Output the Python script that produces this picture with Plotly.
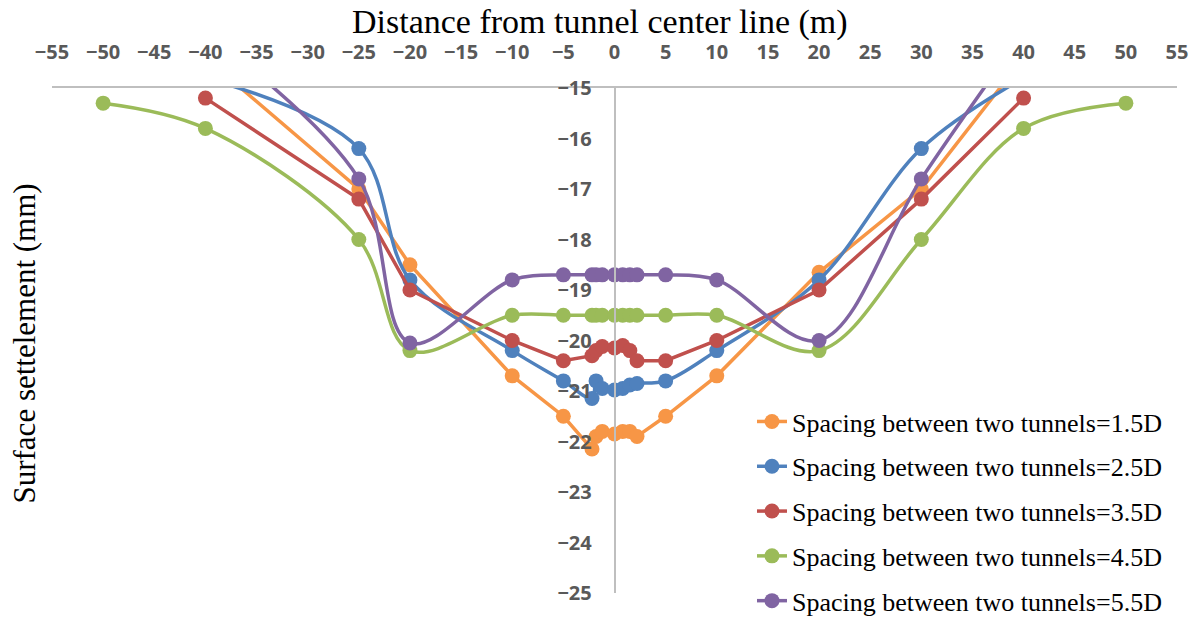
import plotly.graph_objects as go

# Horizontal distance from the tunnel centre line (m) for each case
dist_15d = [-40, -25, -20, -10, -5, -2.2, -1.8, -1.2, 0, 0.8, 1.5, 2.2, 5, 10, 20, 30, 40]
dist_25d = [-40, -25, -20, -10, -5, -2.2, -1.8, -1.2, 0, 0.8, 1.5, 2.2, 5, 10, 20, 30, 40]
dist_35d = [-40, -25, -20, -10, -5, -2.2, -1.8, -1.2, 0, 0.8, 1.5, 2.2, 5, 10, 20, 30, 40]
dist_45d = [-50, -40, -25, -20, -10, -5, -2.2, -1.8, -1.2, 0, 0.8, 1.5, 2.2, 5, 10, 20, 30, 40, 50]
dist_55d = [-40, -25, -20, -10, -5, -2.2, -1.8, -1.2, 0, 0.8, 1.5, 2.2, 5, 10, 20, 30, 40]

# Surface settlement (mm)
settle_15d = [-14.4, -17.0, -18.5, -20.7, -21.5, -22.15, -21.9, -21.8, -21.85, -21.8, -21.8, -21.9,
              -21.5, -20.7, -18.65, -17.0, -14.4]
settle_25d = [-14.8, -16.2, -18.8, -20.2, -20.8, -21.15, -20.8, -20.95, -20.98, -20.95, -20.88, -20.85,
              -20.8, -20.2, -18.8, -16.2, -14.8]
settle_35d = [-15.2, -17.2, -19.0, -20.0, -20.4, -20.3, -20.2, -20.12, -20.15, -20.1, -20.2, -20.4,
              -20.4, -20.0, -19.0, -17.2, -15.2]
settle_45d = [-15.3, -15.8, -18.0, -20.2, -19.5, -19.5, -19.5, -19.5, -19.5, -19.5, -19.5, -19.5, -19.5,
              -19.5, -19.5, -20.2, -18.0, -15.8, -15.3]
settle_55d = [-13.9, -16.8, -20.05, -18.8, -18.7, -18.7, -18.7, -18.7, -18.7, -18.7, -18.7, -18.7,
              -18.7, -18.8, -20.0, -16.8, -13.9]

series_names = [
    "Spacing between two tunnels=1.5D",
    "Spacing between two tunnels=2.5D",
    "Spacing between two tunnels=3.5D",
    "Spacing between two tunnels=4.5D",
    "Spacing between two tunnels=5.5D",
]
series_colors = ["#F79646", "#4F81BD", "#C0504D", "#9BBB59", "#8064A2"]
series_shapes = ["linear", "spline", "linear", "spline", "spline"]

x_ticks = list(range(-55, 56, 5))
y_ticks = list(range(-25, -14, 1))

fig = go.Figure()
for name, xs, ys, color, shape in zip(
    series_names,
    [dist_15d, dist_25d, dist_35d, dist_45d, dist_55d],
    [settle_15d, settle_25d, settle_35d, settle_45d, settle_55d],
    series_colors,
    series_shapes,
):
    fig.add_trace(go.Scatter(
        x=xs, y=ys, name=name, mode="lines+markers",
        line=dict(color=color, width=3.5, shape=shape, smoothing=1),
        marker=dict(color=color, size=15),
        legendgroup=name,
    ))

tick_font = dict(family="Open Sans", size=20, color="#595959", weight=700)
title_font = dict(family="Liberation Serif", color="black")

fig.update_layout(
    width=1200, height=617,
    margin=dict(l=52, r=23, t=88, b=24, autoexpand=False),
    paper_bgcolor="white", plot_bgcolor="white",
    xaxis=dict(
        range=[-55, 55], tickvals=x_ticks, side="top",
        showline=True, linecolor="#BFBFBF", linewidth=1.5,
        showgrid=False, zeroline=False,
        ticks="outside", ticklen=19, tickcolor="rgba(0,0,0,0)",
        tickfont=tick_font,
    ),
    yaxis=dict(
        range=[-25, -15], tickvals=y_ticks,
        anchor="free", position=0.5,
        showline=True, linecolor="#BFBFBF", linewidth=1.5,
        showgrid=False, zeroline=False,
        ticks="outside", ticklen=18, tickcolor="rgba(0,0,0,0)",
        tickfont=tick_font,
    ),
    annotations=[
        dict(
            text="Distance from tunnel center line (m)",
            xref="paper", yref="paper", x=0.487, y=1.131,
            xanchor="center", yanchor="middle", showarrow=False,
            font=dict(title_font, size=34),
        ),
        dict(
            text="Surface settelement (mm)", textangle=-90,
            xref="paper", yref="paper", x=-0.024, y=0.494,
            xanchor="center", yanchor="middle", showarrow=False,
            font=dict(title_font, size=31),
        ),
    ],
    legend=dict(
        x=0.6222, y=0.386, xanchor="left", yanchor="top",
        font=dict(family="Liberation Serif", size=26, color="black"),
        bgcolor="rgba(0,0,0,0)", tracegroupgap=8,
    ),
)

fig.write_html("out.html")
